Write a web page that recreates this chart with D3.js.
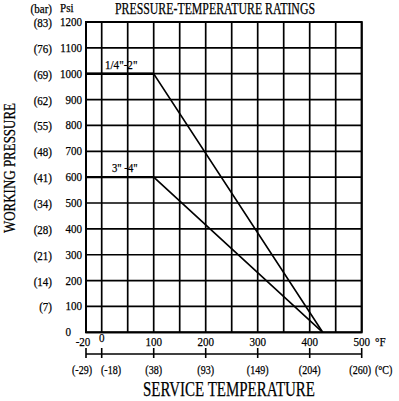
<!DOCTYPE html>
<html>
<head>
<meta charset="utf-8">
<script src="https://cdn.jsdelivr.net/npm/d3@7"></script>
<style>
  body { margin: 0; background: #fff; }
  text { font-family: "Liberation Serif", "DejaVu Serif", serif; fill: #000; stroke: #000; stroke-width: 0.25; }
</style>
</head>
<body>
<div id="chart"></div>
<script>
// psi ticks on the left axis and the matching bar values
const psiTicks = [0, 100, 200, 300, 400, 500, 600, 700, 800, 900, 1000, 1100, 1200];
const barLabels = ["", "(7)", "(14)", "(21)", "(28)", "(34)", "(41)", "(48)", "(55)", "(62)", "(69)", "(76)", "(83)"];

// temperature ticks, °F and the matching °C
const fTicks = [-20, 0, 100, 200, 300, 400, 500];
const cLabels = ["(-29)", "(-18)", "(38)", "(93)", "(149)", "(204)", "(260)"];
const gridTemps = [-20, 0, 50, 100, 150, 200, 250, 300, 350, 400, 450, 500];

// rating curves
const curveTemps = [-20, 100, 425];
const smallPsi = [1000, 1000, 0];
const largePsi = [600, 600, 0];
const curveNames = ['1/4"-2"', '3"  -4"'];

const width = 399, height = 401;
const svg = d3.select("#chart").append("svg")
  .attr("width", width).attr("height", height);

// -20 sits a little wider than the rest on the original sheet
let x = d3.scaleLinear().domain([-20, 0, 500]).range([86, 101.7, 361.7]);
let y = d3.scaleLinear().domain([0, 1200]).range([332.3, 22]);

// squeeze text horizontally like the narrow font in the scan
function condense(sel, k) {
  sel.each(function () {
    let w = this.getComputedTextLength();
    d3.select(this).attr("textLength", w * k).attr("lengthAdjust", "spacingAndGlyphs");
  });
}

let grid = svg.append("g").attr("stroke", "#000").attr("stroke-width", 1.7);

grid.selectAll(".h").data(psiTicks).enter().append("line")
  .attr("x1", x(-20)).attr("x2", x(500))
  .attr("y1", d => y(d)).attr("y2", d => y(d));

grid.selectAll(".v").data(gridTemps).enter().append("line")
  .attr("x1", d => x(d)).attr("x2", d => x(d))
  .attr("y1", y(0)).attr("y2", y(1200));

svg.append("rect")
  .attr("x", x(-20)).attr("y", y(1200))
  .attr("width", x(500) - x(-20)).attr("height", y(0) - y(1200))
  .attr("fill", "none").attr("stroke", "#000").attr("stroke-width", 2);

// curves
let line = d3.line().x(d => x(d[0])).y(d => y(d[1]));
[smallPsi, largePsi].forEach(p => {
  svg.append("path")
    .datum(curveTemps.map((t, i) => [t, p[i]]))
    .attr("d", line)
    .attr("fill", "none").attr("stroke", "#000").attr("stroke-width", 1.6);
  svg.append("line")
    .attr("x1", x(curveTemps[0])).attr("x2", x(curveTemps[1]))
    .attr("y1", y(p[0])).attr("y2", y(p[1]))
    .attr("stroke", "#000").attr("stroke-width", 2.4);
});

svg.append("text").attr("x", 105).attr("y", y(smallPsi[0]) - 5)
  .attr("font-size", 13.5).text(curveNames[0]).call(condense, 0.82);
svg.append("text").attr("x", 112).attr("y", y(largePsi[0]) - 5)
  .attr("font-size", 13).text(curveNames[1]).call(condense, 0.82);

// left axis labels
svg.selectAll(".psi").data(psiTicks).enter().append("text")
  .attr("x", d => d === 0 ? 71 : 82)
  .attr("y", d => y(d) + 4)
  .attr("text-anchor", "end").attr("font-size", 13)
  .text(d => d).call(condense, 0.85);

svg.selectAll(".bar").data(psiTicks).enter().append("text")
  .attr("x", 52).attr("y", d => y(d) + 5)
  .attr("text-anchor", "end").attr("font-size", 12.5)
  .text((d, i) => barLabels[i]).call(condense, 0.88);

svg.append("text").attr("x", 52).attr("y", 13).attr("text-anchor", "end")
  .attr("font-size", 12.5).text("(bar)").call(condense, 0.88);
svg.append("text").attr("x", 60).attr("y", 12)
  .attr("font-size", 13).text("Psi").call(condense, 0.85);

// bottom °F labels
svg.selectAll(".f").data(fTicks).enter().append("text")
  .attr("x", d => d === -20 ? x(d) - 3 : x(d))
  .attr("y", d => d === 0 ? 342 : 346)
  .attr("text-anchor", "middle").attr("font-size", 13)
  .text(d => d).call(condense, 0.85);
svg.append("text").attr("x", 375).attr("y", 346)
  .attr("font-size", 13).text("°F").call(condense, 0.85);

// °C scale
let cy = 354;
svg.append("line").attr("x1", x(-20)).attr("x2", x(500))
  .attr("y1", cy).attr("y2", cy).attr("stroke", "#000").attr("stroke-width", 1.6);
svg.selectAll(".ct").data(fTicks).enter().append("line")
  .attr("x1", d => x(d)).attr("x2", d => x(d))
  .attr("y1", cy - 6).attr("y2", cy + 4)
  .attr("stroke", "#000").attr("stroke-width", 1.6);
svg.selectAll(".c").data(fTicks).enter().append("text")
  .attr("x", (d, i) => i === 0 ? 82 : i === 1 ? 111 : i === 6 ? x(d) - 1.5 : x(d))
  .attr("y", 374)
  .attr("text-anchor", "middle").attr("font-size", 12.5)
  .text((d, i) => cLabels[i]).call(condense, 0.8);
svg.append("text").attr("x", 375).attr("y", 374)
  .attr("font-size", 12.5).text("(°C)").call(condense, 0.8);

// titles
svg.append("text").attr("x", 215).attr("y", 14).attr("text-anchor", "middle")
  .attr("font-size", 16).text("PRESSURE-TEMPERATURE RATINGS")
  .attr("textLength", 200).attr("lengthAdjust", "spacingAndGlyphs");

svg.append("text").attr("x", 229).attr("y", 396).attr("text-anchor", "middle")
  .attr("font-size", 22).text("SERVICE TEMPERATURE")
  .attr("textLength", 172).attr("lengthAdjust", "spacingAndGlyphs");

svg.append("text")
  .attr("transform", "translate(15,168) rotate(-90)")
  .attr("text-anchor", "middle").attr("font-size", 17)
  .text("WORKING PRESSURE")
  .attr("textLength", 130).attr("lengthAdjust", "spacingAndGlyphs");
</script>
</body>
</html>
